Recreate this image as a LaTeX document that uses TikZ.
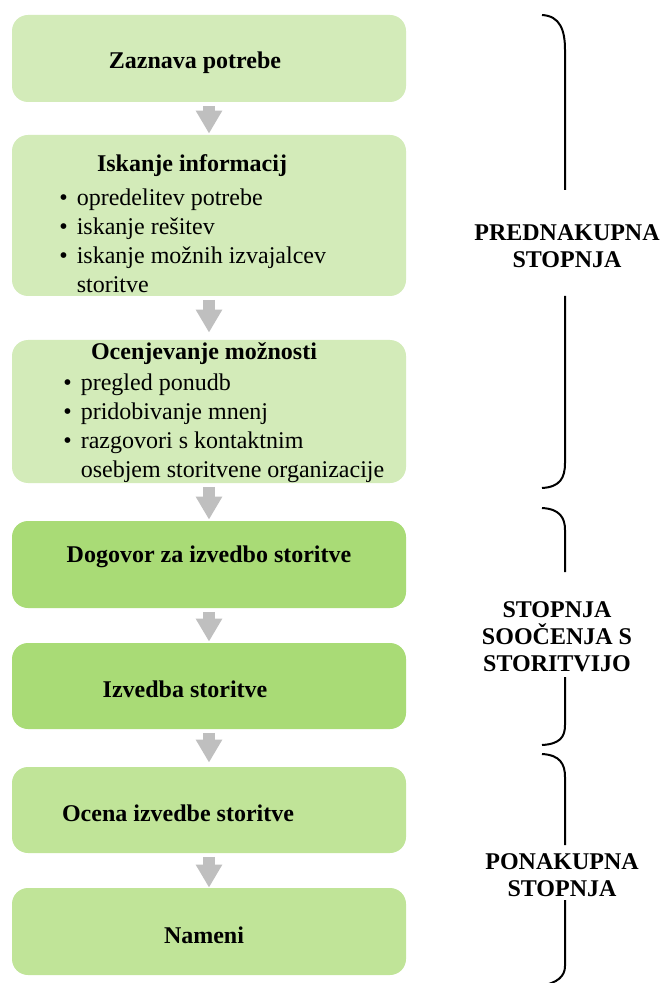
\documentclass[tikz,border=0pt]{standalone}
\usepackage{fontspec}
\setmainfont{LiberationSerif}[Extension = .ttf, UprightFont = *-Regular, BoldFont = *-Bold, ItalicFont = *-Italic, BoldItalicFont = *-BoldItalic]
\usetikzlibrary{arrows.meta}

\definecolor{palegreen}{RGB}{211,235,185}
\definecolor{midgreen}{RGB}{169,219,118}
\definecolor{softgreen}{RGB}{192,228,152}
\definecolor{arrowgray}{RGB}{191,191,191}

\newcommand{\bitem}{\textbullet\hspace{4.5pt}}
\newcommand{\bcont}{\phantom{\textbullet}\hspace{4.5pt}}

\begin{document}
\begin{tikzpicture}[x=0.5pt, y=-0.5pt,
		stagebox/.style = {rectangle, rounded corners = 8pt, minimum width = 197pt, inner sep = 0pt},
		title/.style = {font = \fontsize{12}{14}\selectfont\bfseries, inner sep = 0pt},
		items/.style = {font = \fontsize{12}{14.5}\selectfont, align = left, anchor = north west, inner sep = 0pt},
		stage/.style = {font = \fontsize{12}{13.5}\selectfont\bfseries, align = center, inner sep = 0pt},
		flow/.style = {arrowgray, line width = 6.3pt, -{Triangle[width = 12.5pt, length = 11.5pt]}, shorten < = 1.75pt},
		bracket/.style = {line width = 1pt}]
		\def\bx{209};
		\def\by{565};
		
		\useasboundingbox (0,0) rectangle (662,983);
		
		%boxes
		\node [stagebox, fill = palegreen, minimum height = 43.5pt] (zaznava) at (\bx,58.5) {};
		\node [stagebox, fill = palegreen, minimum height = 80.5pt] (iskanje) at (\bx,215.5) {};
		\node [stagebox, fill = palegreen, minimum height = 71.5pt] (ocenjevanje) at (\bx,411.5) {};
		\node [stagebox, fill = midgreen, minimum height = 43.5pt] (dogovor) at (\bx,564.5) {};
		\node [stagebox, fill = midgreen, minimum height = 43pt] (izvedba) at (\bx,686) {};
		\node [stagebox, fill = softgreen, minimum height = 43pt] (ocena) at (\bx,810) {};
		\node [stagebox, fill = softgreen, minimum height = 43.5pt] (nameni) at (\bx,931.5) {};
		
		%texts
		\node [title] (zaznava title) at (195,63) {Zaznava potrebe};
		\node [title] (iskanje title) at (192,166) {Iskanje informacij};
		\node [items] (iskanje list) at (59,188) {\bitem opredelitev potrebe\\ \bitem iskanje rešitev\\ \bitem iskanje možnih izvajalcev\\ \bcont storitve};
		\node [title] (ocenjevanje title) at (204,354) {Ocenjevanje možnosti};
		\node [items] (ocenjevanje list) at (63,373) {\bitem pregled ponudb\\ \bitem pridobivanje mnenj\\ \bitem razgovori s kontaktnim\\ \bcont osebjem storitvene organizacije};
		\node [title] (dogovor title) at (209,557) {Dogovor za izvedbo storitve};
		\node [title] (izvedba title) at (185,689) {Izvedba storitve};
		\node [title] (ocena title) at (178,813) {Ocena izvedbe storitve};
		\node [title] (nameni title) at (204,935) {Nameni};
		
		%arrows
		\foreach \a/\b/\s in {zaznava/iskanje/0.5, iskanje/ocenjevanje/3.5, ocenjevanje/dogovor/0.5, dogovor/izvedba/0.5, izvedba/ocena/2, ocena/nameni/0}
			\draw [flow, shorten > = \s pt] (\a) -- (\b);
		
		%stages
		\node [stage] (prednakupna) at (567,246.5) {PREDNAKUPNA\\STOPNJA};
		\node [stage] (soocenje) at (557,636.5) {STOPNJA\\SOOČENJA S\\STORITVIJO};
		\node [stage] (ponakupna) at (562,875) {PONAKUPNA\\STOPNJA};
		
		\draw [bracket] (542,15) .. controls (560,16) and (\by,30) .. (\by,50) -- (\by,190);
		\draw [bracket] (\by,296) -- (\by,463) .. controls (\by,478) and (560,487) .. (542,488);
		\draw [bracket] (542,508) .. controls (560,509) and (\by,518) .. (\by,530) -- (\by,572);
		\draw [bracket] (\by,677) -- (\by,725) .. controls (\by,737) and (560,744) .. (542,745);
		\draw [bracket] (542,754) .. controls (560,755) and (\by,764) .. (\by,777) -- (\by,845);
		\draw [bracket] (\by,900) -- (\by,966) .. controls (\by,976) and (558,983) .. (540,986);
	\end{tikzpicture}
\end{document}
